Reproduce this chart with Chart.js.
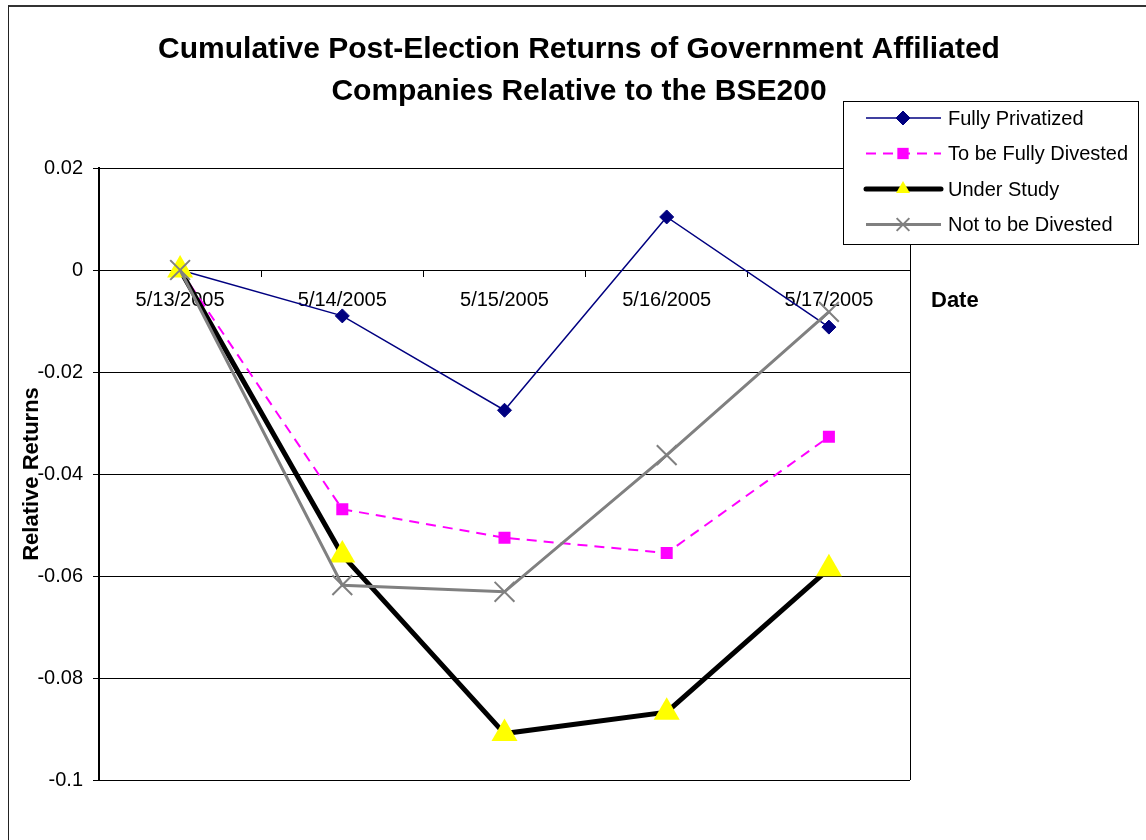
<!DOCTYPE html>
<html>
<head>
<meta charset="utf-8">
<title>Cumulative Post-Election Returns</title>
<script src="https://cdn.jsdelivr.net/npm/chart.js@4.4.1/dist/chart.umd.min.js"></script>
<style>
    html, body { margin: 0; padding: 0; background: #fff; overflow: hidden; }
    #wrap { position: relative; width: 1146px; height: 840px; }
    #frame {
        position: absolute; left: 8px; top: 5px; width: 1200px; height: 900px;
        border-left: 1px solid #222; border-top: 2px solid #333;
    }
    #returnsChart { position: absolute; left: 0; top: 0; }
</style>
</head>
<body>
<div id="wrap">
    <div id="frame"></div>
    <canvas id="returnsChart" width="1146" height="840"></canvas>
</div>
<script>
// Trading days after the election
const dates = ["5/13/2005", "5/14/2005", "5/15/2005", "5/16/2005", "5/17/2005"];

// Cumulative returns relative to the BSE200
const fullyPrivatized = [0, -0.0090, -0.0275, 0.0104, -0.0112];
const toBeFullyDivested = [0, -0.0469, -0.0525, -0.0555, -0.0327];
const underStudy = [0, -0.0559, -0.0909, -0.0867, -0.0586];
const notToBeDivested = [0, -0.0618, -0.0631, -0.0363, -0.0082];

const seriesNames = ["Fully Privatized", "To be Fully Divested", "Under Study", "Not to be Divested"];
const yTicks = [0.02, 0, -0.02, -0.04, -0.06, -0.08, -0.1];

const titleLines = [
    "Cumulative Post-Election Returns of Government Affiliated",
    "Companies Relative to the BSE200"
];

const FONT = "'Liberation Sans', Arial, sans-serif";

// Legend symbols are a bit smaller than the markers on the lines
const legendRadius = [7, 8, 8, 9];

// Draws the title, the "Date" label, the plot frame and the boxed legend
const excelLookPlugin = {
    id: 'excelLook',
    beforeDatasetsDraw: (chart) => {
        const {ctx, chartArea} = chart;
        ctx.save();
        ctx.strokeStyle = '#000';
        ctx.lineWidth = 1;
        ctx.beginPath();
        ctx.moveTo(Math.round(chartArea.right) + 0.5, chartArea.top);
        ctx.lineTo(Math.round(chartArea.right) + 0.5, chartArea.bottom);
        ctx.stroke();
        ctx.restore();
    },
    afterDraw: (chart) => {
        const {ctx} = chart;
        ctx.save();

        // title
        ctx.fillStyle = '#000';
        ctx.textAlign = 'center';
        ctx.textBaseline = 'middle';
        ctx.font = "bold 30px " + FONT;
        ctx.fillText(titleLines[0], 579, 50);
        ctx.fillText(titleLines[1], 579, 92);

        // x axis title sits to the right of the axis
        ctx.textAlign = 'left';
        ctx.font = "bold 22px " + FONT;
        ctx.fillText("Date", 931, 301);

        // legend box
        const box = {x: 843, y: 101, w: 295, h: 143};
        ctx.fillStyle = '#fff';
        ctx.fillRect(box.x, box.y, box.w, box.h);
        ctx.strokeStyle = '#000';
        ctx.lineWidth = 1;
        ctx.strokeRect(box.x + 0.5, box.y + 0.5, box.w, box.h);

        chart.data.datasets.forEach((ds, i) => {
            const y = box.y + 17 + i * 35.5;
            ctx.save();
            ctx.strokeStyle = ds.borderColor;
            ctx.lineWidth = ds.borderWidth;
            ctx.lineCap = ds.borderWidth > 3 ? 'round' : 'butt';
            ctx.setLineDash(ds.borderDash || []);
            ctx.beginPath();
            ctx.moveTo(866, y);
            ctx.lineTo(941, y);
            ctx.stroke();
            ctx.restore();

            ctx.save();
            ctx.fillStyle = ds.pointBackgroundColor;
            ctx.strokeStyle = ds.pointBorderColor;
            ctx.lineWidth = ds.pointBorderWidth;
            Chart.helpers.drawPoint(ctx, {
                pointStyle: ds.pointStyle,
                radius: legendRadius[i],
                rotation: 0,
                borderWidth: ds.pointBorderWidth
            }, 903, y);
            ctx.restore();

            ctx.fillStyle = '#000';
            ctx.textAlign = 'left';
            ctx.textBaseline = 'middle';
            ctx.font = "20px " + FONT;
            ctx.fillText(ds.label, 948, y + 1);
        });

        ctx.restore();
    }
};

function setupReturnsChart() {
    const graphData = {
        labels: dates,
        datasets: [
            {
                label: seriesNames[0],
                data: fullyPrivatized,
                borderColor: '#000080',
                borderWidth: 1.5,
                pointStyle: 'rectRot',
                pointRadius: 7,
                pointBackgroundColor: '#000080',
                pointBorderColor: '#000080',
                pointBorderWidth: 1,
                order: 4
            },
            {
                label: seriesNames[1],
                data: toBeFullyDivested,
                borderColor: '#FF00FF',
                borderWidth: 2,
                borderDash: [10, 7],
                pointStyle: 'rect',
                pointRadius: 8.5,
                pointBackgroundColor: '#FF00FF',
                pointBorderColor: '#FF00FF',
                pointBorderWidth: 0,
                order: 3
            },
            {
                label: seriesNames[2],
                data: underStudy,
                borderColor: '#000000',
                borderWidth: 5,
                pointStyle: 'triangle',
                pointRadius: 15,
                pointBackgroundColor: '#FFFF00',
                pointBorderColor: '#FFFF00',
                pointBorderWidth: 0,
                order: 2
            },
            {
                label: seriesNames[3],
                data: notToBeDivested,
                borderColor: '#808080',
                borderWidth: 3,
                pointStyle: 'crossRot',
                pointRadius: 14,
                pointBackgroundColor: '#808080',
                pointBorderColor: '#808080',
                pointBorderWidth: 2,
                order: 1
            }
        ]
    };

    const ctx = document.getElementById("returnsChart");

    new Chart(ctx, {
        type: 'line',
        data: graphData,
        options: {
            responsive: false,
            animation: false,
            layout: {
                padding: {top: 168, right: 236, bottom: 60, left: 0}
            },
            plugins: {
                legend: {display: false},
                title: {display: false},
                tooltip: {enabled: false}
            },
            elements: {
                line: {tension: 0}
            },
            scales: {
                x: {
                    type: 'category',
                    position: {y: 0},
                    offset: true,
                    grid: {
                        offset: true,
                        drawOnChartArea: false,
                        drawTicks: true,
                        tickLength: 6,
                        color: '#000',
                        tickColor: '#000'
                    },
                    border: {display: true, color: '#000', width: 1},
                    ticks: {
                        color: '#000',
                        font: {family: FONT, size: 20},
                        padding: 12,
                        maxRotation: 0,
                        autoSkip: false
                    }
                },
                y: {
                    min: yTicks[yTicks.length - 1],
                    max: yTicks[0],
                    afterBuildTicks: (scale) => {
                        scale.ticks = yTicks.map(v => ({value: v}));
                    },
                    afterFit: (scale) => {
                        scale.width = 99;
                    },
                    grid: {
                        color: '#000',
                        lineWidth: 1,
                        tickLength: 6,
                        drawTicks: true
                    },
                    border: {display: true, color: '#000', width: 2},
                    ticks: {
                        color: '#000',
                        font: {family: FONT, size: 20},
                        padding: 10,
                        callback: (v) => String(Math.round(v * 100) / 100)
                    },
                    title: {
                        display: true,
                        text: 'Relative Returns',
                        color: '#000',
                        font: {family: FONT, size: 22, weight: 'bold'},
                        padding: {top: 19, bottom: 0}
                    }
                }
            }
        },
        plugins: [excelLookPlugin]
    });
}

setupReturnsChart();
</script>
</body>
</html>
